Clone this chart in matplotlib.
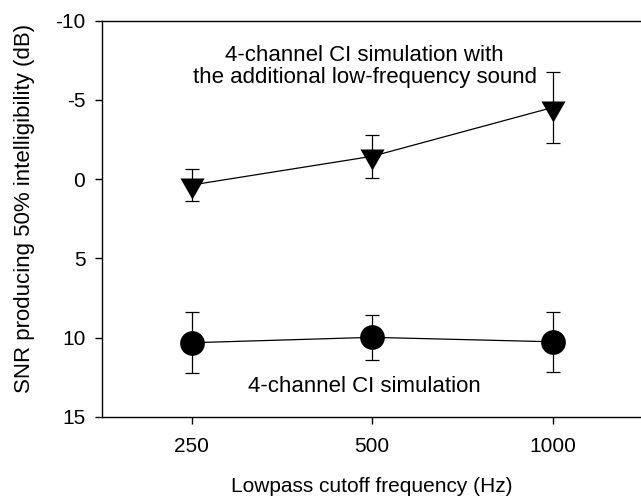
import matplotlib
matplotlib.use('Agg')
import matplotlib.pyplot as plt
from matplotlib.ticker import NullLocator
import numpy as np

plt.rcParams['font.family'] = ['Liberation Sans', 'DejaVu Sans']
plt.rcParams['axes.unicode_minus'] = False

# lowpass cutoff (Hz)
freqs = [250, 500, 1000]
freq_labels = ['250', '500', '1000']

# SNR for 50% intelligibility (dB), with error bars
snr_lf = [0.37, -1.44, -4.52]     # CI sim + low-frequency sound
err_lf = [0.99, 1.35, 2.26]
snr_ci = [10.33, 9.99, 10.27]     # CI sim only
err_ci = [1.93, 1.44, 1.89]

y_ticks = [-10, -5, 0, 5, 10, 15]


def main():
    fig = plt.figure(figsize=(6.41, 5.0), dpi=100)
    ax = fig.add_axes([101.7/641, 83.3/500, 541/641, 396/500])

    # down triangle with its centroid on the data point
    tri = [(-1, 0.583), (1, 0.583), (0, -1.167)]

    for y, e, mk, ms in [(snr_lf, err_lf, tri, 20.2), (snr_ci, err_ci, 'o', 17.8)]:
        ax.errorbar(freqs, y, yerr=e, fmt='none', ecolor='black',
                    elinewidth=0.9, capsize=4.7, capthick=0.9, zorder=2)
        ax.plot(freqs, y, color='black', linewidth=0.9, marker=mk,
                markersize=ms, markerfacecolor='black', markeredgecolor='black',
                markeredgewidth=0, zorder=3)

    ax.set_xscale('log')
    ax.set_xlim(250/np.sqrt(2), 1000*np.sqrt(2))
    ax.set_xticks(freqs)
    ax.set_xticklabels(freq_labels)
    ax.xaxis.set_minor_locator(NullLocator())

    ax.set_ylim(15, -10)
    ax.set_yticks(y_ticks)
    ax.set_yticklabels([str(t) for t in y_ticks])

    ax.spines['right'].set_visible(False)
    for s in ['left', 'top', 'bottom']:
        ax.spines[s].set_linewidth(1.0)
    ax.tick_params(direction='out', length=4.8, width=1.0, labelsize=15,
                   top=False, right=False)
    ax.tick_params(axis='y', pad=7)
    ax.tick_params(axis='x', pad=10)

    ax.set_xlabel('Lowpass cutoff frequency (Hz)', fontsize=15, labelpad=15)
    ax.set_ylabel('SNR producing 50% intelligibility (dB)', fontsize=16)
    ax.yaxis.set_label_coords(-0.123, 0.527)

    ax.text(486, -7.1, '4-channel CI simulation with\nthe additional low-frequency sound',
            ha='center', va='center', multialignment='center', fontsize=16,
            linespacing=1.1)
    ax.text(486, 13.1, '4-channel CI simulation', ha='center', va='center', fontsize=16)

    fig.savefig('out.png', dpi=100)


if __name__ == '__main__':
    main()
